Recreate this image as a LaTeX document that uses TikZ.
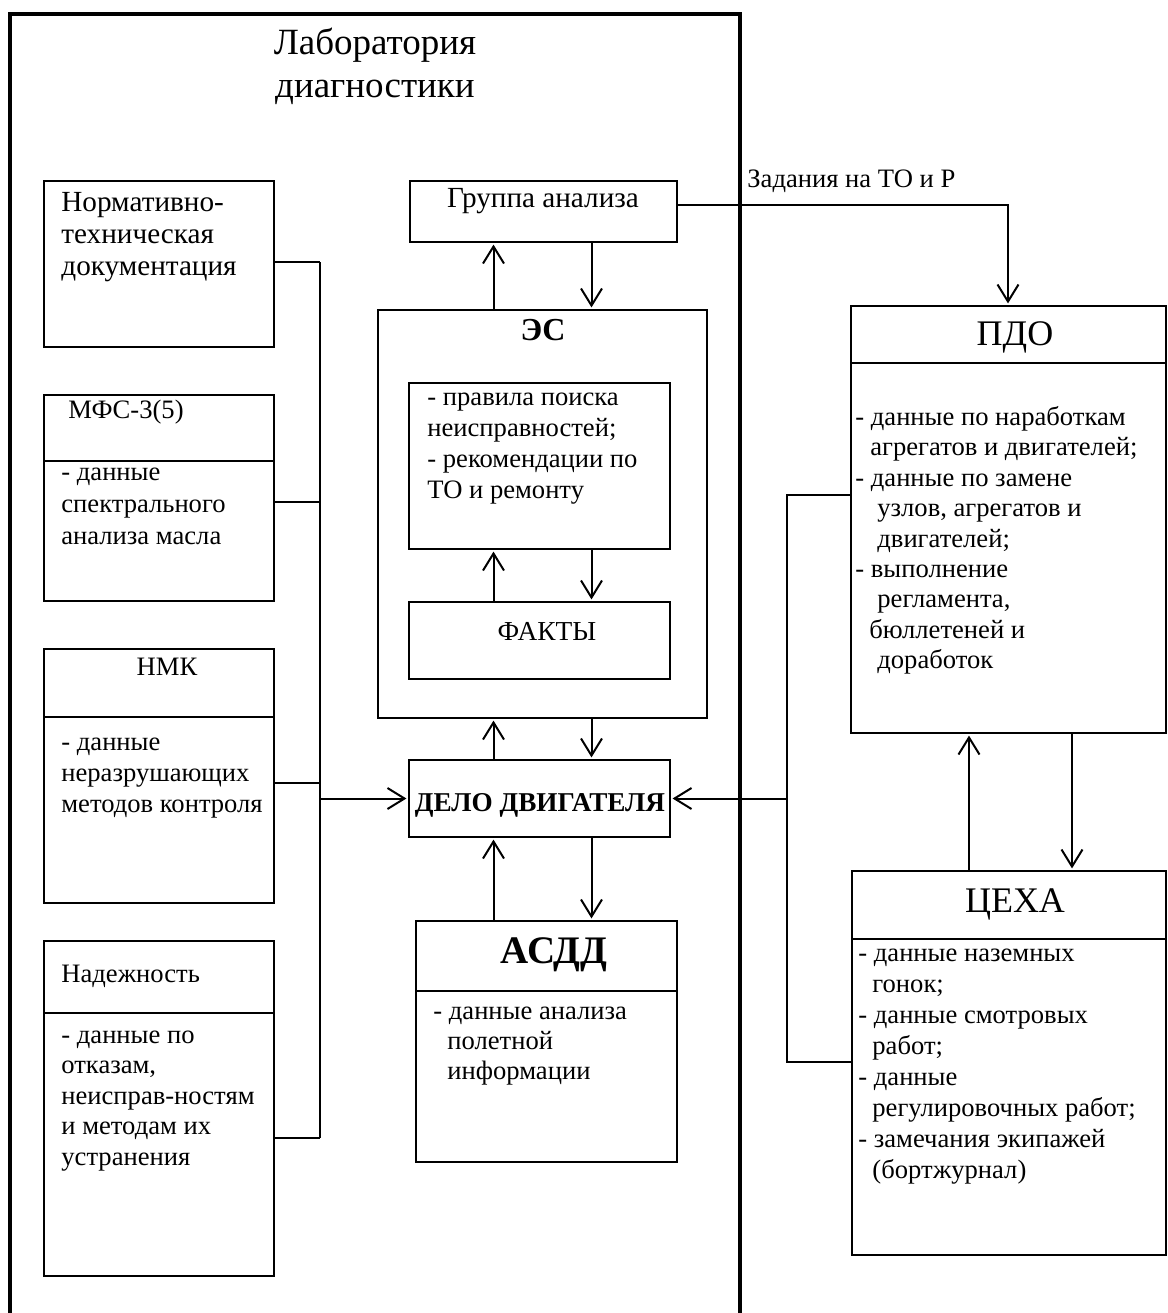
\documentclass[tikz,border=0pt]{standalone}
\usepackage{fontspec}
\setmainfont{Liberation Serif}
\usetikzlibrary{arrows.meta,fit}
\newcommand\fl{\rule{0pt}{10pt}}
\begin{document}
\begin{tikzpicture}[x=0.5pt,y=-0.5pt,
  ln/.style={line width=1pt},
  bx/.style={draw,line width=1pt,inner sep=0pt},
  outer/.style={draw,line width=1.6pt,inner sep=0pt},
  arr/.style={line width=1pt,-{Straight Barb[length=8.5pt,width=10.5pt]},shorten >=0.8pt},
  tx/.style={anchor=north west,inner sep=0pt,align=left,font=\fontsize{13.3}{#1}\selectfont},
  tx/.default=15.5pt,
  lb/.style={anchor=base,inner sep=0pt,font=\fontsize{13.3}{15.5}\selectfont},
  lbw/.style={anchor=base west,inner sep=0pt,font=\fontsize{13.3}{15.5}\selectfont},
  big/.style={anchor=base,inner sep=0pt,font=\fontsize{18}{20}\selectfont},
]
\useasboundingbox (0,0) rectangle (1168,1313);
\fill[white] (0,0) rectangle (1168,1313);

% outer laboratory frame (bottom runs off the page)
\node[outer,fit={(10,14) (740,1340)}] (lab) {};
\node[anchor=north,inner sep=0pt,align=center,font=\fontsize{18.5}{21.5}\selectfont] (labt) at (375,25)
  {\rule{0pt}{14.5pt}Лаборатория\\диагностики};

% left column
\node[bx,fit={(44,181) (274,347)}] (norm) {};
\node[tx=16pt,font=\fontsize{14.6}{16}\selectfont] (normt) at (61,191) {\fl Нормативно-\\техническая\\документация};

\node[bx,fit={(44,395) (274,601)}] (mfs) {};
\draw[ln] (mfs.west |- 0,461) -- (mfs.east |- 0,461);
\node[lbw] (mfsh) at (68,418) {МФС-3(5)};
\node[tx=16pt] (mfst) at (61,460) {\fl - данные\\спектрального\\анализа масла};

\node[bx,fit={(44,649) (274,903)}] (nmk) {};
\draw[ln] (nmk.west |- 0,717) -- (nmk.east |- 0,717);
\node[lb] (nmkh) at (167,675) {НМК};
\node[tx=15.5pt] (nmkt) at (61,730) {\fl - данные\\неразрушающих\\методов контроля};

\node[bx,fit={(44,941) (274,1276)}] (nad) {};
\draw[ln] (nad.west |- 0,1013) -- (nad.east |- 0,1013);
\node[lbw] (nadh) at (61,982) {Надежность};
\node[tx=15.25pt] (nadt) at (61,1023) {\fl - данные по\\отказам,\\неисправ-ностям\\и методам их\\устранения};

% central column
\node[bx,fit={(410,181) (677,242)}] (grp) {};
\node[lb,font=\fontsize{14.6}{16}\selectfont] (grpt) at (543,207) {Группа анализа};

\node[bx,fit={(378,310) (707,718)}] (es) {};
\node[anchor=base,inner sep=0pt,font=\fontsize{16}{18}\selectfont\bfseries] (est) at (543,340) {ЭС};

\node[bx,fit={(409,383) (670,549)}] (rules) {};
\node[tx=15.5pt] (rulest) at (427,385) {\fl - правила поиска\\неисправностей;\\- рекомендации по\\ТО и ремонту};

\node[bx,fit={(409,602) (670,679)}] (facts) {};
\node[lb,font=\fontsize{13.7}{15.5}\selectfont] (factst) at (547,640) {ФАКТЫ};

\node[bx,fit={(409,760) (670,837)}] (delo) {};
\node[anchor=base,inner sep=0pt,font=\fontsize{13.6}{15}\selectfont\bfseries] (delot) at (540,811) {ДЕЛО ДВИГАТЕЛЯ};

\node[bx,fit={(416,921) (677,1162)}] (asdd) {};
\draw[ln] (asdd.west |- 0,991) -- (asdd.east |- 0,991);
\node[anchor=base,inner sep=0pt,font=\fontsize{19.5}{21}\selectfont\bfseries] (asddh) at (554,963) {АСДД};
\node[tx=15pt] (asddt) at (433,999) {\fl - данные анализа\\\hspace*{7pt}полетной\\\hspace*{7pt}информации};

% right column
\node[bx,fit={(851,306) (1166,733)}] (pdo) {};
\draw[ln] (pdo.west |- 0,363) -- (pdo.east |- 0,363);
\node[big] (pdoh) at (1015,345) {ПДО};
\node[tx=15.2pt] (pdot) at (855,405) {\fl - данные по наработкам\\
  \hspace*{7.5pt}агрегатов и двигателей;\\
  - данные по замене\\
  \hspace*{11pt}узлов, агрегатов и\\
  \hspace*{11pt}двигателей;\\
  - выполнение\\
  \hspace*{11pt}регламента,\\
  \hspace*{7pt}бюллетеней и\\
  \hspace*{11pt}доработок};

\node[bx,fit={(852,871) (1166,1255)}] (ceh) {};
\draw[ln] (ceh.west |- 0,939) -- (ceh.east |- 0,939);
\node[big] (cehh) at (1015,912) {ЦЕХА};
\node[tx=15.5pt] (ceht) at (858,941) {\fl - данные наземных\\
  \hspace*{7pt}гонок;\\
  - данные смотровых\\
  \hspace*{7pt}работ;\\
  - данные\\
  \hspace*{7pt}регулировочных работ;\\
  - замечания экипажей\\
  \hspace*{7pt}(бортжурнал)};

% connectors: left bus
\coordinate (busT) at (320,262);
\coordinate (busB) at (320,1138);
\draw[ln] (busT) -- (busB);
\draw[ln] (norm.east |- busT) -- (busT);
\draw[ln] (mfs.east |- 0,502) -- (busT |- 0,502);
\draw[ln] (nmk.east |- 0,783) -- (busT |- 0,783);
\draw[ln] (nad.east |- busB) -- (busB);
\draw[arr] (busT |- delo.west) -- (delo.west);

% connectors: right bus
\coordinate (rbT) at (787,495);
\coordinate (rbB) at (787,1062);
\draw[ln] (pdo.west |- rbT) -- (rbT) -- (rbB) -- (ceh.west |- rbB);
\draw[arr] (rbT |- delo.east) -- (delo.east);

% vertical arrow pairs
\coordinate (cA) at (493.5,0);
\coordinate (cB) at (591.5,0);
\draw[arr] (es.north -| cA) -- (grp.south -| cA);
\draw[arr] (grp.south -| cB) -- (es.north -| cB);
\draw[arr] (facts.north -| cA) -- (rules.south -| cA);
\draw[arr] (rules.south -| cB) -- (facts.north -| cB);
\draw[arr] (delo.north -| cA) -- (es.south -| cA);
\draw[arr] (es.south -| cB) -- (delo.north -| cB);
\draw[arr] (asdd.north -| cA) -- (delo.south -| cA);
\draw[arr] (delo.south -| cB) -- (asdd.north -| cB);

\coordinate (cC) at (969,0);
\coordinate (cD) at (1072,0);
\draw[arr] (ceh.north -| cC) -- (pdo.south -| cC);
\draw[arr] (pdo.south -| cD) -- (ceh.north -| cD);

% tasks from analysis group to PDO
\coordinate (turn) at (1008,205);
\draw[arr] (grp.east |- turn) -- (turn) -- (turn |- pdo.north);
\node[lbw] (tasks) at (747,187) {Задания на ТО и Р};
\end{tikzpicture}
\end{document}
